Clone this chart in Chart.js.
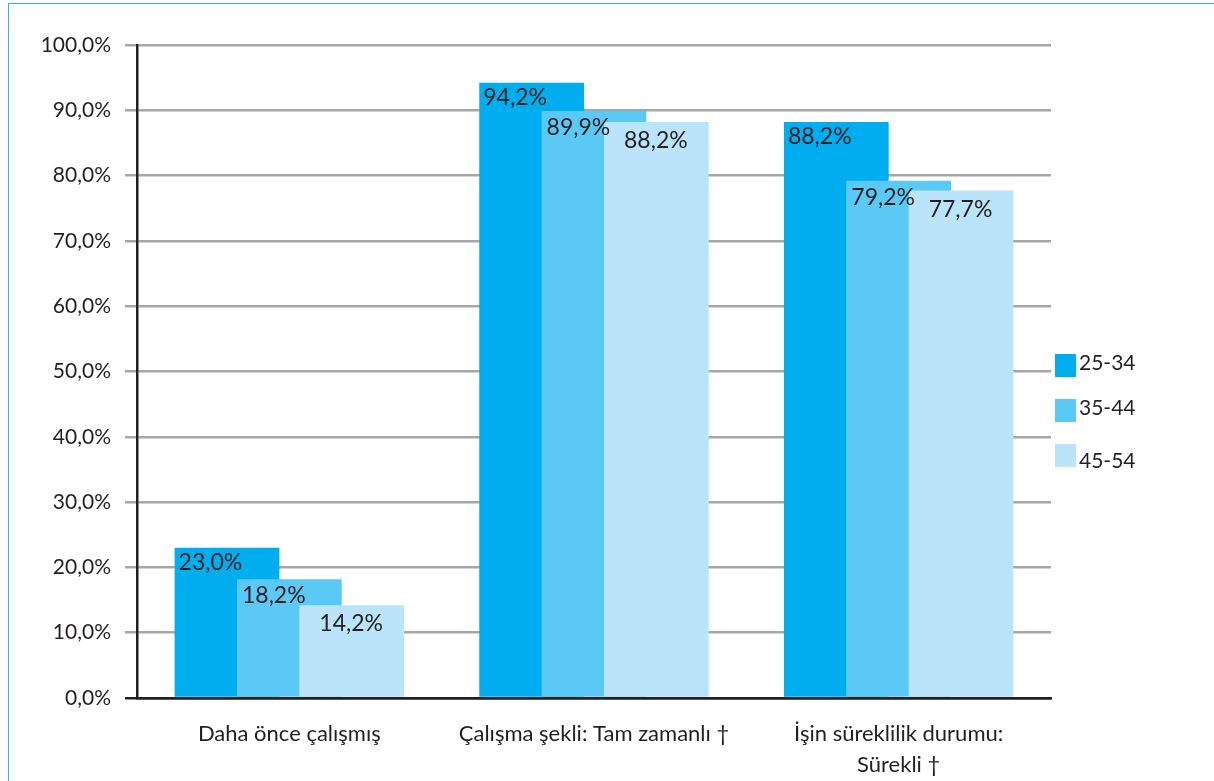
<!DOCTYPE html>
<html><head><meta charset="utf-8">
<script src="https://cdn.jsdelivr.net/npm/chart.js@4.4.1/dist/chart.umd.min.js"></script>
<style>
html,body{margin:0;padding:0;background:#fff;overflow:hidden}
#wrap{position:relative;width:1214px;height:781px;overflow:hidden}
#frame{position:absolute;left:8px;top:3px;width:1300px;height:900px;border-left:1.5px solid #2fb4e6;border-top:1.5px solid #2fb4e6}
canvas{position:absolute;left:0;top:0}
</style></head><body>
<div id="wrap"><div id="frame"></div><canvas id="c" width="1214" height="781"></canvas></div>
<script>
const categories = [
  'Daha önce çalışmış',
  'Çalışma şekli: Tam zamanlı †',
  ['İşin süreklilik durumu:', 'Sürekli †']
];
const seriesNames = ['25-34', '35-44', '45-54'];
const values2534 = [23.0, 94.2, 88.2];
const values3544 = [18.2, 89.9, 79.2];
const values4554 = [14.2, 88.2, 77.7];
const seriesColors = ['#00aeef', '#5bc9f5', '#b9e4f9'];
const yTickValues = [0, 10, 20, 30, 40, 50, 60, 70, 80, 90, 100];

const FONT = 'Lato, "Open Sans", sans-serif';
const TEXT = '#231f20';
const fmt = v => v.toFixed(1).replace('.', ',') + '%';

// draw datasets first-to-last so later series overlap earlier ones, then the value labels
const drawPlugin = {
  id: 'forwardDraw',
  beforeDatasetsDraw(chart) {
    const n = chart.data.datasets.length;
    for (let i = 0; i < n; i++) {
      const meta = chart.getDatasetMeta(i);
      if (!meta.hidden) meta.controller.draw();
    }
    const ctx = chart.ctx;
    const xOff = [4, 5, 20];
    ctx.save();
    ctx.font = '23px ' + FONT;
    ctx.fillStyle = TEXT;
    ctx.textAlign = 'left';
    ctx.textBaseline = 'top';
    chart.data.datasets.forEach((ds, di) => {
      const meta = chart.getDatasetMeta(di);
      meta.data.forEach((el, i) => {
        const left = el.x - el.width / 2;
        ctx.fillText(fmt(ds.data[i]), left + xOff[di], el.y + 3 + di * 2);
      });
    });
    ctx.restore();
    return false;
  }
};

const legendPlugin = {
  id: 'sideLegend',
  afterDraw(chart) {
    const ctx = chart.ctx;
    const x0 = chart.chartArea.right + 4;
    const y0 = chart.chartArea.top + 309;
    ctx.save();
    ctx.font = '21px ' + FONT;
    ctx.textAlign = 'left';
    ctx.textBaseline = 'middle';
    chart.data.datasets.forEach((ds, di) => {
      const y = y0 + di * 45;
      ctx.fillStyle = ds.backgroundColor;
      ctx.fillRect(x0, y, 21, 23);
      ctx.fillStyle = TEXT;
      ctx.fillText(ds.label, x0 + 24, y + 9 + (di === 2 ? 8 : 0));
    });
    ctx.restore();
  }
};

const mk = (name, vals, color) => ({
  label: name, data: vals, backgroundColor: color, borderWidth: 0,
  categoryPercentage: 0.614, barPercentage: 1.68
});

new Chart(document.getElementById('c'), {
  type: 'bar',
  data: {
    labels: categories,
    datasets: [
      mk(seriesNames[0], values2534, seriesColors[0]),
      mk(seriesNames[1], values3544, seriesColors[1]),
      mk(seriesNames[2], values4554, seriesColors[2])
    ]
  },
  options: {
    responsive: false,
    animation: false,
    devicePixelRatio: 1,
    layout: { padding: { left: 0, right: 163, top: 45, bottom: 0 } },
    plugins: { legend: { display: false }, tooltip: { enabled: false } },
    scales: {
      x: {
        grid: { display: false, drawTicks: false },
        border: { display: true, color: TEXT, width: 2.5 },
        ticks: { color: TEXT, font: { family: FONT, size: 22, lineHeight: 1.4 }, padding: 21, maxRotation: 0, autoSkip: false },
        afterFit(s) { s.height = 83; }
      },
      y: {
        min: 0, max: 100,
        afterBuildTicks(s) { s.ticks = yTickValues.map(v => ({ value: v })); },
        grid: {
          color: c => (c.tick && c.tick.value === 0) ? TEXT : '#a6a6a6',
          tickColor: c => (c.tick && c.tick.value === 0) ? TEXT : '#a6a6a6',
          lineWidth: 2.5, tickLength: 12
        },
        border: { display: true, color: TEXT, width: 2.5 },
        ticks: { color: TEXT, font: { family: FONT, size: 21 }, padding: 14, callback: v => fmt(v) },
        afterFit(s) { s.width = 137; }
      }
    }
  },
  plugins: [drawPlugin, legendPlugin]
});
</script>
</body></html>
